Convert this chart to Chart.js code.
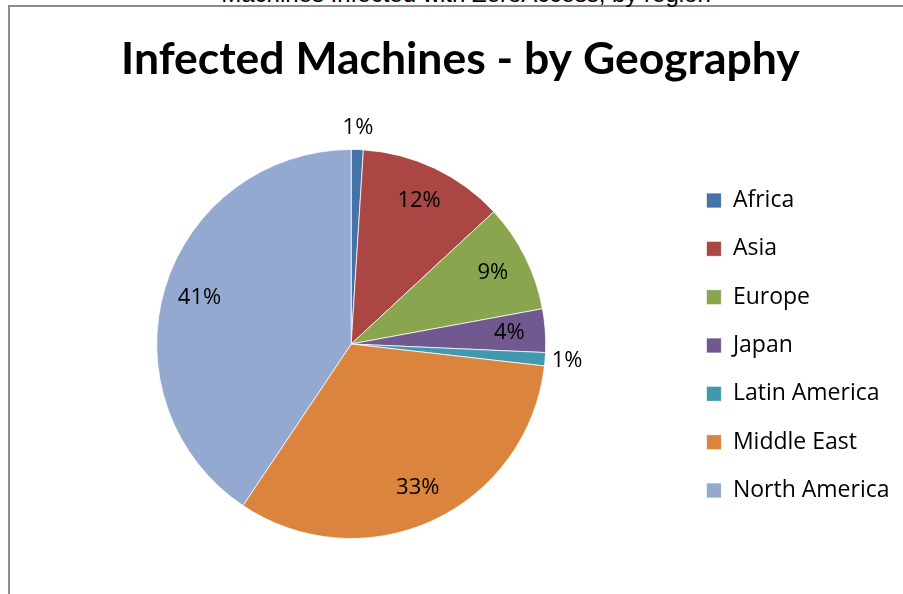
<!DOCTYPE html>
<html>
<head>
<meta charset="utf-8">
<script src="https://cdn.jsdelivr.net/npm/chart.js@4"></script>
<style>
  html, body { margin: 0; padding: 0; background: #ffffff; overflow: hidden; }
  #wrap { position: relative; width: 903px; height: 594px; }
  #frame { position: absolute; left: 8px; top: 5px; width: 900px; height: 600px;
           border-left: 2px solid #8c8c8c; border-top: 2px solid #8c8c8c; box-sizing: border-box; }
  #cut { position: absolute; left: 0; width: 903px; top: -17px; text-align: center;
         font: 24px "Liberation Sans", Arial, sans-serif; line-height: 22px; color: #000;
         padding-left: 29px; box-sizing: border-box; white-space: nowrap; }
  canvas { position: absolute; left: 0; top: 0; }
</style>
</head>
<body>
<div id="wrap">
  <div id="frame"></div>
  <div id="cut">Machines Infected with ZeroAccess, by region</div>
  <canvas id="c" width="903" height="594"></canvas>
</div>
<script>
const chartTitle = "Infected Machines - by Geography";
const categories = ["Africa", "Asia", "Europe", "Japan", "Latin America", "Middle East", "North America"];
const values = [1.0, 12.1, 9.0, 3.6, 1.1, 32.6, 40.6];
const colors = ["#4572A7", "#AA4643", "#89A54E", "#71588F", "#4198AF", "#DB843D", "#93A9CF"];

const total = values.reduce((a, b) => a + b, 0);
const pctLabels = values.map(v => Math.round(v / total * 100) + "%");

const labelPlugin = {
  id: "sliceLabels",
  afterDatasetsDraw(chart) {
    const ctx = chart.ctx;
    const meta = chart.getDatasetMeta(0);
    ctx.save();
    ctx.font = '22px "Open Sans", sans-serif';
    ctx.fillStyle = "#000";
    ctx.textAlign = "center";
    ctx.textBaseline = "middle";
    meta.data.forEach((arc, i) => {
      const p = arc.getProps(["x", "y", "startAngle", "endAngle", "outerRadius"], true);
      const mid = (p.startAngle + p.endAngle) / 2;
      const share = values[i] / total;
      const dist = share < 0.02 ? p.outerRadius + 22 : p.outerRadius * 0.815;
      ctx.fillText(pctLabels[i], p.x + Math.cos(mid) * dist, p.y + Math.sin(mid) * dist);
    });
    ctx.restore();
  }
};

new Chart(document.getElementById("c"), {
  type: "pie",
  data: {
    labels: categories,
    datasets: [{
      data: values,
      backgroundColor: colors,
      borderColor: "rgba(255,255,255,0.75)",
      borderWidth: 1
    }]
  },
  options: {
    responsive: false,
    animation: false,
    events: [],
    layout: { padding: { left: 21.3, right: 3.5, top: 0, bottom: 55 } },
    plugins: {
      title: {
        display: true,
        text: chartTitle,
        color: "#000",
        font: { family: 'Lato, "Liberation Sans", sans-serif', size: 44.5, weight: "bold", lineHeight: 1.2 },
        padding: { top: 33.3, bottom: 62.3 }
      },
      legend: {
        position: "right",
        align: "center",
        title: { display: true, text: "", font: { size: 12, lineHeight: 1.2 }, padding: { top: 137.6, bottom: 0 } },
        labels: {
          boxWidth: 15,
          boxHeight: 15,
          padding: 25.33,
          color: "#000",
          font: { family: '"Open Sans", sans-serif', size: 23 }
        }
      },
      tooltip: { enabled: false }
    }
  },
  plugins: [labelPlugin]
});
</script>
</body>
</html>
